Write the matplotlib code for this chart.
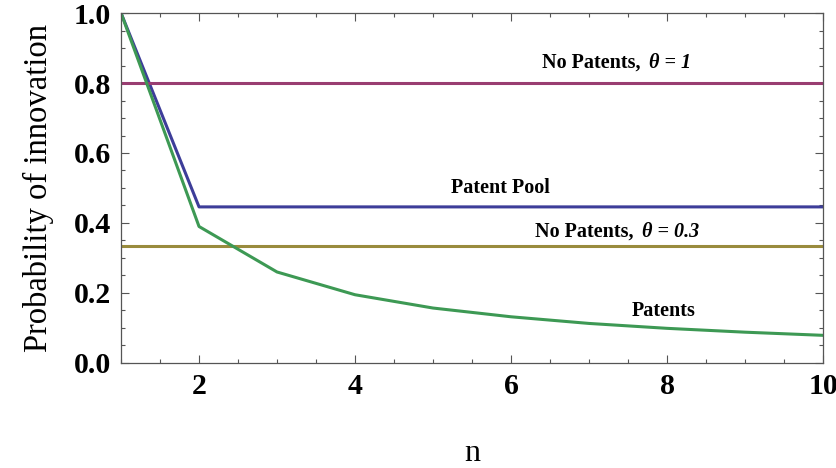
import numpy as np
import matplotlib
matplotlib.use("Agg")
import matplotlib.pyplot as plt
from matplotlib.ticker import MultipleLocator

plt.rcParams['font.family'] = ['Liberation Serif', 'DejaVu Serif']

# data
n = [1, 2, 3, 4, 5, 6, 7, 8, 9, 10]
patents = [1.0, 0.39, 0.26, 0.195, 0.157, 0.132, 0.113, 0.099, 0.088, 0.079]
patent_pool = [1.0, 0.446, 0.446, 0.446, 0.446, 0.446, 0.446, 0.446, 0.446, 0.446]
no_pat_theta1 = 0.8
no_pat_theta03 = 0.333

# mathematica style colours
c_blue = (0.24, 0.24, 0.6)
c_mag = (0.6, 0.24, 0.442)
c_gold = (0.6, 0.547, 0.24)
c_green = (0.24, 0.6, 0.33)

fig = plt.figure(figsize=(8.37, 4.68), dpi=100)
ax = fig.add_axes([0.1446, 0.2244, 0.8387, 0.7478])

ax.plot(n, patent_pool, color=c_blue, lw=2.2)
ax.axhline(no_pat_theta1, color=c_mag, lw=2.2)
ax.axhline(no_pat_theta03, color=c_gold, lw=2.2)
ax.plot(n, patents, color=c_green, lw=2.2)

ax.set_xlim(1, 10)
ax.set_ylim(0, 1)
ax.xaxis.set_major_locator(MultipleLocator(2))
ax.xaxis.set_minor_locator(MultipleLocator(0.5))
ax.yaxis.set_minor_locator(MultipleLocator(0.05))
ax.set_yticks([0, 0.2, 0.4, 0.6, 0.8, 1.0])
ax.set_yticklabels(['0.0', '0.2', '0.4', '0.6', '0.8', '1.0'])
ax.tick_params(which='both', direction='in', top=True, right=True,
               color='#555555', width=0.8)
ax.tick_params(which='major', length=6, labelsize=21.5, pad=7)
ax.tick_params(which='minor', length=3)
for lab in ax.get_xticklabels() + ax.get_yticklabels():
    lab.set_fontweight('bold')
for sp in ax.spines.values():
    sp.set_color('#555555')
    sp.set_linewidth(0.9)

ax.set_ylabel('Probability of innovation', fontsize=23.5, labelpad=14)
ax.set_xlabel('n', fontsize=23, labelpad=28)

fs = 14.5
# labels: plain bold part + bold italic part
ax.annotate('No Patents,', (7.71, 0.857), xytext=(-3, 0), textcoords='offset points',
            fontsize=fs, fontweight='bold', ha='right', va='center')
ax.annotate('\u03b8 = 1', (7.71, 0.857), xytext=(3, 0), textcoords='offset points',
            fontsize=fs, fontweight='bold', fontstyle='italic', ha='left', va='center')
ax.text(5.87, 0.5, 'Patent Pool', fontsize=fs, fontweight='bold',
        ha='center', va='center')
ax.annotate('No Patents,', (7.63, 0.374), xytext=(-3, 0), textcoords='offset points',
            fontsize=fs, fontweight='bold', ha='right', va='center')
ax.annotate('\u03b8 = 0.3', (7.63, 0.374), xytext=(3, 0), textcoords='offset points',
            fontsize=fs, fontweight='bold', fontstyle='italic', ha='left', va='center')
ax.text(7.96, 0.149, 'Patents', fontsize=fs, fontweight='bold',
        ha='center', va='center')

fig.savefig('out.png', dpi=100)
